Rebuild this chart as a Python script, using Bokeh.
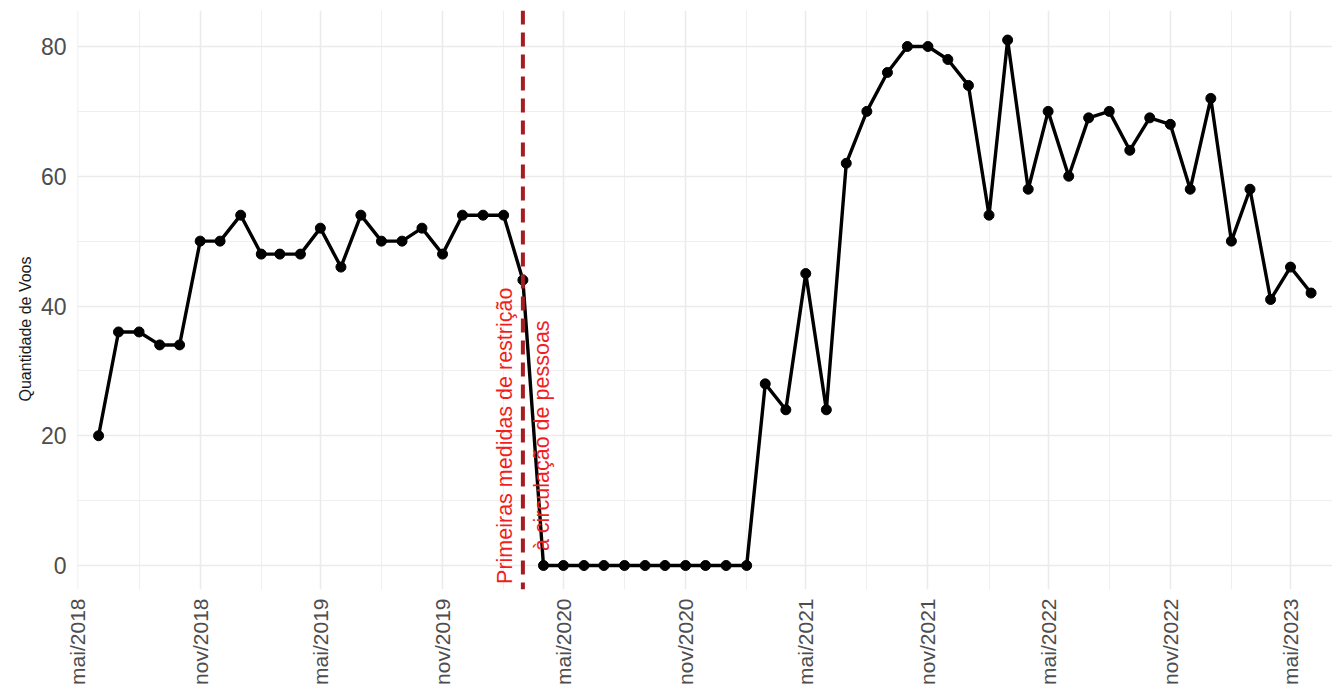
import math
import pandas as pd
from bokeh.plotting import figure
from bokeh.models import FixedTicker, Span, Range1d, ColumnDataSource, Label, Title
from bokeh.embed import file_html
from bokeh.resources import INLINE

# ---- data ----
inicio = "2018-06-01"
voos = [20, 36, 36, 34, 34, 50, 50,
        54, 48, 48, 48, 52, 46, 54, 50, 50, 52, 48, 54,
        54, 54, 44, 0, 0, 0, 0, 0, 0, 0, 0, 0,
        0, 0, 28, 24, 45, 24, 62, 70, 76, 80, 80, 78,
        74, 54, 81, 58, 70, 60, 69, 70, 64, 69, 68, 58,
        72, 50, 58, 41, 46, 42]
tick_labels = ["mai/2018", "nov/2018", "mai/2019", "nov/2019", "mai/2020", "nov/2020",
               "mai/2021", "nov/2021", "mai/2022", "nov/2022", "mai/2023"]
y_ticks = [0, 20, 40, 60, 80]
y_minor = [10, 30, 50, 70]
marco_data = "2020-03-01"
marco_linhas = ["Primeiras medidas de restrição", "à circulação de pessoas"]
y_label = "Quantidade de Voos"

meses = pd.date_range(inicio, periods=len(voos), freq="MS")
src = ColumnDataSource(dict(x=meses, y=voos))

mes_num = {"mai": 5, "nov": 11}
def to_ms(ts):
    return pd.Timestamp(ts).value / 1e6

tick_ms = [to_ms(pd.Timestamp(year=int(l.split("/")[1]), month=mes_num[l.split("/")[0]], day=1)) for l in tick_labels]
all_grid = [to_ms(t) for t in pd.date_range("2018-02-01", "2023-11-01", freq="3MS")]
minor_ms = [t for t in all_grid if t not in tick_ms]

W, H = 1332, 687
LEFT, TOP, BOTTOM = 77, 10, 96
x_start = to_ms("2018-05-01") - 0.75 * 86400000
px_per_day = 1212.5 / 1826.0
x_end = x_start + (W - LEFT) / px_per_day * 86400000

p = figure(width=W, height=H, output_backend="svg", toolbar_location=None,
           x_axis_type="datetime",
           x_range=Range1d(x_start, x_end), y_range=Range1d(-3.7, 85.55),
           min_border_left=LEFT, min_border_right=0, min_border_top=TOP, min_border_bottom=BOTTOM)
p.background_fill_color = "white"
p.border_fill_color = "white"
p.outline_line_color = None

# grids
p.xaxis.ticker = FixedTicker(ticks=tick_ms, minor_ticks=minor_ms)
p.yaxis.ticker = FixedTicker(ticks=y_ticks, minor_ticks=y_minor)
for g in (p.xgrid, p.ygrid):
    g.grid_line_color = "#EBEBEB"
    g.grid_line_width = 1.6
    g.minor_grid_line_color = "#EFEFEF"
    g.minor_grid_line_width = 1.0

p.xaxis.major_label_overrides = {t: l for t, l in zip(tick_ms, tick_labels)}
p.xaxis.major_label_orientation = math.pi / 2

for ax in (p.xaxis, p.yaxis):
    ax.axis_line_color = None
    ax.major_tick_line_color = None
    ax.minor_tick_line_color = None
    ax.major_label_text_font = "Liberation Sans"
    ax.major_label_text_color = "#4D4D4D"
p.xaxis.major_label_text_font_size = "21px"
p.yaxis.major_label_text_font_size = "23px"
p.xaxis.major_label_standoff = 3
p.yaxis.major_label_standoff = 5

# y-axis title (as a left-side title so it can be shifted along the axis)
p.add_layout(Title(text=y_label, align="left", offset=188, standoff=8,
                   text_font="Liberation Sans", text_font_size="16px",
                   text_font_style="normal", text_color="#1A1A1A"), "left")

# data line + points
p.line("x", "y", source=src, line_color="black", line_width=3.4)
p.scatter("x", "y", source=src, size=10, fill_color="black", line_color="black")

# vertical marker
vx = to_ms(marco_data)
p.add_layout(Span(location=vx, dimension="height", line_color="#A51D22",
                  line_width=4, line_dash="14 8"))
for txt, off in zip(marco_linhas, [-17.5, 19.5]):
    p.add_layout(Label(x=vx, y=20, text=txt, angle=math.pi / 2, x_offset=off,
                       text_align="center", text_baseline="middle",
                       text_font="Liberation Sans", text_font_size="21.5px",
                       text_color="#F01E1E"))

open("out.html", "w").write(file_html(p, INLINE))
